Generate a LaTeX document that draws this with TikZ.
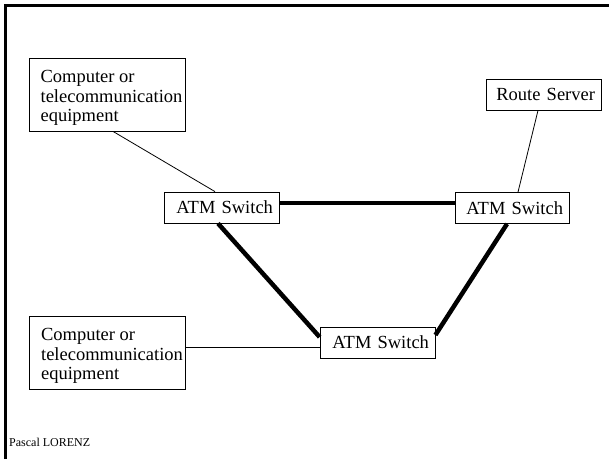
\documentclass[tikz,border=0pt]{standalone}
\usepackage{fontspec}
\setmainfont{Liberation Serif}
\begin{document}
\begin{tikzpicture}[x=1pt,y=-1pt,
  box/.style={draw,line width=0.8pt,inner sep=0pt,font=\fontsize{18.5}{19.5}\selectfont},
  sw/.style={box,minimum width=115pt,minimum height=31pt,text width=103pt,align=right,inner xsep=6pt},
  eq/.style={box,minimum height=73pt,minimum width=156pt,inner xsep=0pt},
  thinlink/.style={line width=0.8pt},
  thicklink/.style={line width=4.5pt},
  frame/.style={line width=3pt}]
\useasboundingbox (0,0) rectangle (609,459);
\draw[frame] (5,459) -- (5,5) -- (609,5);
\node[eq] (box1) at (107,94.5) {\begin{tabular}{@{\hspace{10pt}}l@{\hspace{1pt}}}\rule{0pt}{21.65pt}Computer or\\telecommunication\\equipment\end{tabular}};
\node[eq] (box2) at (107.5,352.5) {\begin{tabular}{@{\hspace{10pt}}l@{\hspace{1pt}}}\rule{0pt}{21.65pt}Computer or\\telecommunication\\equipment\end{tabular}};
\node[sw] (rs) at (543.5,94.5) {Route Server};
\node[sw] (atm1) at (221.5,207.5) {ATM Switch};
\node[sw,minimum width=114pt,text width=102pt] (atm2) at (512,208) {ATM Switch};
\node[sw] (atm3) at (377.5,342.5) {ATM Switch};
\node[anchor=base west,inner sep=0pt,font=\fontsize{12}{14}\selectfont] (author) at (9,446) {Pascal LORENZ};
\draw[thinlink] ([xshift=6pt]box1.south) -- ([xshift=-6.5pt]atm1.north);
\draw[thinlink] ([xshift=-5.5pt]rs.south) -- ([xshift=6pt]atm2.north);
\draw[thicklink] ([yshift=4.5pt]atm1.east) -- ([yshift=5pt]atm2.west);
\draw[thicklink] ([xshift=-3.5pt]atm1.south) -- ([yshift=5.5pt]atm3.west);
\draw[thicklink] ([yshift=7.5pt]atm3.east) -- ([xshift=-5pt]atm2.south);
\draw[thinlink] ([yshift=5.5pt]box2.east) -- ([yshift=-4.5pt]atm3.west);
\end{tikzpicture}
\end{document}
